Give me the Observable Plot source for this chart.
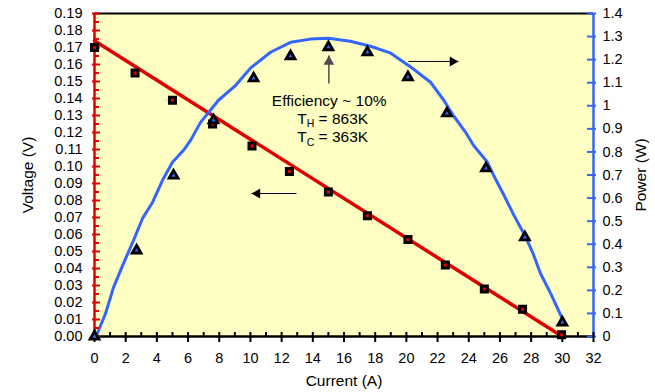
<!DOCTYPE html>
<html><head><meta charset="utf-8">
<script src="https://cdn.jsdelivr.net/npm/d3@7"></script>
<script src="https://cdn.jsdelivr.net/npm/@observablehq/plot@0.6"></script>
<style>body{margin:0;background:#fff;}</style>
</head><body><div id="chart"></div>
<script>
// Measured voltage (squares)
const voltCurrent = [0, 2.6, 5.0, 7.57, 10.1, 12.5, 15.0, 17.5, 20.1, 22.5, 25.0, 27.45, 29.95];
const voltage = [0.170, 0.155, 0.139, 0.125, 0.112, 0.097, 0.085, 0.071, 0.057, 0.042, 0.028, 0.016, 0.001];
// Measured power (triangles)
const powerCurrent = [0, 2.7, 5.07, 7.63, 10.2, 12.57, 15.0, 17.5, 20.1, 22.6, 25.1, 27.6, 30.0];
const power = [0, 0.373, 0.698, 0.937, 1.119, 1.215, 1.254, 1.232, 1.124, 0.967, 0.729, 0.430, 0.061];
// Voltage fit line
const fitCurrent = [0, 30.0];
const fitVoltage = [0.174, 0];
// Power curve
const curveCurrent = [0.1, 0.71, 1.22, 1.86, 2.5, 3.08, 3.72, 4.36, 5.0, 5.71, 6.16, 6.8, 7.95, 9.0, 10.0, 11.29, 12.57, 13.85, 15.0, 16.4, 17.7, 19.0, 20.3, 21.55, 22.4, 23.0, 23.8, 24.3, 25.2, 25.6, 26.2, 26.9, 27.6, 28.1, 28.6, 29.25, 30.05];
const curvePower = [0, 0.100, 0.213, 0.317, 0.416, 0.512, 0.581, 0.677, 0.755, 0.807, 0.850, 0.928, 1.024, 1.085, 1.163, 1.232, 1.275, 1.289, 1.293, 1.280, 1.258, 1.228, 1.167, 1.102, 1.024, 0.959, 0.885, 0.829, 0.755, 0.698, 0.620, 0.525, 0.438, 0.364, 0.273, 0.187, 0.07];
// Ticks
const xTicks = [0, 2, 4, 6, 8, 10, 12, 14, 16, 18, 20, 22, 24, 26, 28, 30, 32];
const xMinorTicks = [1, 3, 5, 7, 9, 11, 13, 15, 17, 19, 21, 23, 25, 27, 29, 31];
const voltTicks = [0, 0.01, 0.02, 0.03, 0.04, 0.05, 0.06, 0.07, 0.08, 0.09, 0.10, 0.11, 0.12, 0.13, 0.14, 0.15, 0.16, 0.17, 0.18, 0.19];
const voltTickLabels = ["0.00","0.01","0.02","0.03","0.04","0.05","0.06","0.07","0.08","0.09","0.10","0.11","0.12","0.13","0.14","0.15","0.16","0.17","0.18","0.19"];
const voltMinorTicks = [0.005, 0.015, 0.025, 0.035, 0.045, 0.055, 0.065, 0.075, 0.085, 0.095, 0.105, 0.115, 0.125, 0.135, 0.145, 0.155, 0.165, 0.175, 0.185];
const powerTicks = [0, 0.1, 0.2, 0.3, 0.4, 0.5, 0.6, 0.7, 0.8, 0.9, 1.0, 1.1, 1.2, 1.3, 1.4];
const powerTickLabels = ["0","0.1","0.2","0.3","0.4","0.5","0.6","0.7","0.8","0.9","1","1.1","1.2","1.3","1.4"];
// Annotations
const noteCentered = [{I: 15.05, V: 0.1388, label: "Efficiency ~ 10%"}];
const noteLeft = [{I: 13.0, V: 0.1281, label: "TH = 863K"}, {I: 13.0, V: 0.1172, label: "TC = 363K"}];
const arrowUp = [{x1: 15.03, y1: 0.1488, x2: 15.03, y2: 0.1653}];
const arrowRight = [{x1: 20.14, y1: 0.1618, x2: 23.34, y2: 0.1618}];
const arrowLeft = [{x1: 12.95, y1: 0.0841, x2: 10.07, y2: 0.0841}];

const RED = "#E00000", BLUE = "#3366FF", BG = "#FFFFC4";
const VMAX = 0.19, PMAX = 1.4, k = VMAX / PMAX;

const squares = voltCurrent.map((I, i) => ({I, V: voltage[i]}));
const triangles = powerCurrent.map((I, i) => ({I, P: power[i]}));
const fit = fitCurrent.map((I, i) => ({I, V: fitVoltage[i]}));
const curve = curveCurrent.map((I, i) => ({I, P: curvePower[i]}));

const lookup = (vals, labels, scale) => d => {
  const i = vals.findIndex(v => Math.abs(v * scale - d) < 1e-9);
  return i < 0 ? "" : labels[i];
};

const chart = Plot.plot({
  width: 655, height: 392,
  marginLeft: 94, marginRight: 62, marginTop: 13, marginBottom: 56,
  style: {fontFamily: "'Liberation Sans', Arial, sans-serif", fontSize: "14.5px", background: "white", color: "black"},
  x: {domain: [0, 32]},
  y: {domain: [0, VMAX]},
  marks: [
    Plot.frame({fill: BG, stroke: "none"}),
    Plot.line(fit, {x: "I", y: "V", stroke: RED, strokeWidth: 3.5}),
    Plot.line(curve, {x: "I", y: d => d.P * k, stroke: BLUE, strokeWidth: 3}),
    Plot.ruleY([VMAX], {stroke: "black", strokeWidth: 2}),
    Plot.ruleY([0], {stroke: "black", strokeWidth: 2.5}),
    Plot.ruleX([0], {stroke: RED, strokeWidth: 2.5}),
    Plot.ruleX([32], {stroke: BLUE, strokeWidth: 2.5}),
    // axes
    Plot.axisY({ticks: voltTicks, tickSize: 8, dx: 6, tickPadding: 10, stroke: RED, fill: "black", strokeWidth: 2, label: null, tickFormat: lookup(voltTicks, voltTickLabels, 1)}),
    Plot.axisY({ticks: voltMinorTicks, tickSize: 5, dx: 5, stroke: RED, fill: "none", strokeWidth: 2, label: null}),
    Plot.axisY({anchor: "right", ticks: powerTicks.map(p => p * k), tickSize: 9, dx: -7, tickPadding: 7, stroke: BLUE, fill: "black", strokeWidth: 2, label: null, tickFormat: lookup(powerTicks, powerTickLabels, k)}),
    Plot.axisX({ticks: xTicks, tickSize: 10, dy: -4, tickPadding: 10, stroke: "black", fill: "black", strokeWidth: 2, label: null, tickFormat: d => String(d)}),
    Plot.axisX({ticks: xMinorTicks, tickSize: 4, dy: -4, stroke: "black", fill: "none", strokeWidth: 2, label: null}),
    // markers
    Plot.dot(squares, {x: "I", y: "V", symbol: "square", r: 3.4, fill: RED, stroke: "black", strokeWidth: 3}),
    Plot.dot(triangles, {x: "I", y: d => d.P * k, symbol: "triangle", r: 3.3, fill: BLUE, stroke: "black", strokeWidth: 2.8}),
    // arrows
    Plot.link(arrowUp, {x1: "x1", y1: "y1", x2: "x2", y2: "y2", stroke: "#4d4d4d", strokeWidth: 1.5}),
    Plot.dot(arrowUp, {x: "x2", y: "y2", symbol: "triangle", r: 4, fill: "#4d4d4d", stroke: "none", dy: 6.2}),
    Plot.link(arrowRight, {x1: "x1", y1: "y1", x2: "x2", y2: "y2", stroke: "black", strokeWidth: 1}),
    Plot.dot(arrowRight, {x: "x2", y: "y2", symbol: "triangle", r: 3.7, rotate: 90, fill: "black", stroke: "none", dx: -5.8}),
    Plot.link(arrowLeft, {x1: "x1", y1: "y1", x2: "x2", y2: "y2", stroke: "black", strokeWidth: 1}),
    Plot.dot(arrowLeft, {x: "x2", y: "y2", symbol: "triangle", r: 3.7, rotate: -90, fill: "black", stroke: "none", dx: 5.8}),
    // annotation text
    Plot.text(noteCentered, {x: "I", y: "V", text: "label", fontSize: 15.5, textAnchor: "middle", fill: "black"}),
    Plot.text(noteLeft, {x: "I", y: "V", text: "label", fontSize: 15.5, textAnchor: "start", fill: "black"}),
    // axis titles
    Plot.text(["Voltage (V)"], {text: d => d, frameAnchor: "left", dx: -66, rotate: -90, textAnchor: "middle", lineAnchor: "middle", fontSize: 15.5, fill: "black"}),
    Plot.text(["Power (W)"], {text: d => d, frameAnchor: "right", dx: 48, rotate: -90, textAnchor: "middle", lineAnchor: "middle", fontSize: 15.5, fill: "black"}),
    Plot.text(["Current (A)"], {text: d => d, frameAnchor: "bottom", dy: 44.7, textAnchor: "middle", lineAnchor: "middle", fontSize: 15.5, fill: "black"})
  ]
});

d3.select(chart).selectAll("text").each(function() {
  const m = this.textContent.match(/^T([HC]) = (.+)$/);
  if (!m) return;
  const sel = d3.select(this);
  sel.text(null);
  sel.append("tspan").text("T");
  sel.append("tspan").attr("font-size", 10.5).attr("dy", 3.5).text(m[1]);
  sel.append("tspan").attr("dy", -3.5).text(" = " + m[2]);
});

document.getElementById("chart").appendChild(chart);
</script>
</body></html>
